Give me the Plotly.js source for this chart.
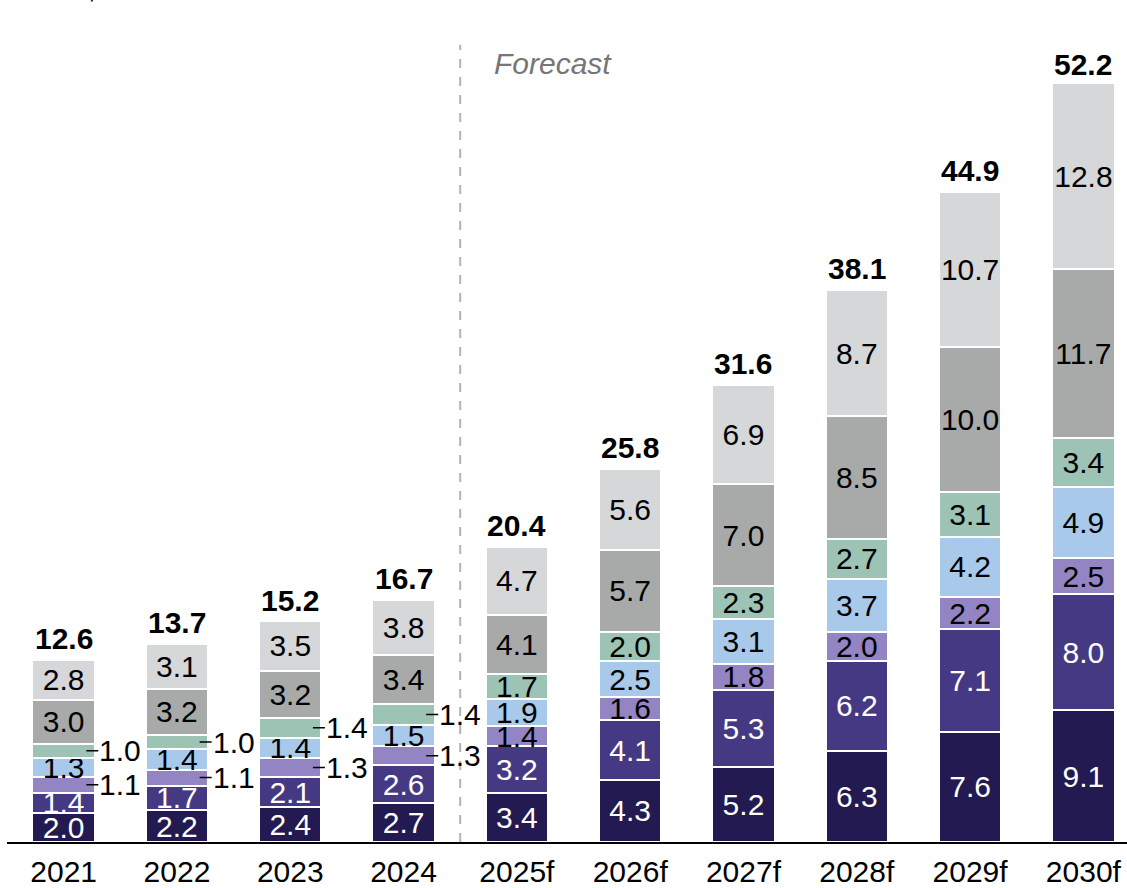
<!DOCTYPE html>
<html>
<head>
<meta charset="utf-8">
<script src="https://cdn.plot.ly/plotly-3.0.1.min.js"></script>
<style>html,body{margin:0;padding:0;background:#fff;}#chart{width:1127px;height:888px;}</style>
</head>
<body>
<div id="chart"></div>
<script>
const years = ["2021","2022","2023","2024","2025f","2026f","2027f","2028f","2029f","2030f"];
const seg1 = [2.0,2.2,2.4,2.7,3.4,4.3,5.2,6.3,7.6,9.1];
const seg2 = [1.4,1.7,2.1,2.6,3.2,4.1,5.3,6.2,7.1,8.0];
const seg3 = [1.1,1.1,1.3,1.3,1.4,1.6,1.8,2.0,2.2,2.5];
const seg4 = [1.3,1.4,1.4,1.5,1.9,2.5,3.1,3.7,4.2,4.9];
const seg5 = [1.0,1.0,1.4,1.4,1.7,2.0,2.3,2.7,3.1,3.4];
const seg6 = [3.0,3.2,3.2,3.4,4.1,5.7,7.0,8.5,10.0,11.7];
const seg7 = [2.8,3.1,3.5,3.8,4.7,5.6,6.9,8.7,10.7,12.8];
const totals = [12.6,13.7,15.2,16.7,20.4,25.8,31.6,38.1,44.9,52.2];
const outsideCount = 4; // first years where small segments are labelled outside

const FONT = "Liberation Sans, Arial, sans-serif";
const FS = 30;
const series = [
  {name:"s1", y:seg1, color:"#221a50", tc:"#ffffff", outside:false},
  {name:"s2", y:seg2, color:"#463984", tc:"#ffffff", outside:false},
  {name:"s3", y:seg3, color:"#9385c3", tc:"#000000", outside:true},
  {name:"s4", y:seg4, color:"#a9c9ea", tc:"#000000", outside:false},
  {name:"s5", y:seg5, color:"#9dc3b4", tc:"#000000", outside:true},
  {name:"s6", y:seg6, color:"#a8aaaa", tc:"#000000", outside:false},
  {name:"s7", y:seg7, color:"#d6d7d9", tc:"#000000", outside:false}
];

const traces = series.map(s => ({
  type:"bar", x:years, y:s.y, name:s.name,
  marker:{color:s.color, line:{color:"#ffffff", width:2}},
  text:s.y.map((v,i)=> (s.outside && i<outsideCount) ? "" : v.toFixed(1)),
  textposition:"inside", insidetextanchor:"middle", textangle:0,
  constraintext:"none",
  textfont:{family:FONT, size:FS, color:s.tc},
  hoverinfo:"skip", cliponaxis:false
}));

const annotations = [];
// totals
totals.forEach((t,i)=>{
  annotations.push({x:i, y:t, xref:"x", yref:"y", text:"<b>"+t.toFixed(1)+"</b>",
    showarrow:false, yanchor:"bottom", yshift:3, font:{family:FONT, size:FS, color:"#000"}});
});
// outside labels for small segments
const cum = years.map(()=>0);
series.forEach(s=>{
  s.y.forEach((v,i)=>{
    if (s.outside && i<outsideCount) {
      annotations.push({x:i+0.2, y:cum[i]+v/2, xref:"x", yref:"y", text:v.toFixed(1),
        showarrow:true, arrowhead:0, arrowwidth:1.5, arrowcolor:"#000", ax:12, ay:0,
        xanchor:"left", borderpad:0, standoff:0,
        font:{family:FONT, size:FS, color:"#000"}});
    }
    cum[i]+=v;
  });
});
// Forecast label
annotations.push({x:3.5, y:1, xref:"x", yref:"paper", text:"<i>Forecast</i>", showarrow:false,
  xanchor:"left", yanchor:"middle", xshift:32, yshift:-23, font:{family:FONT, size:30, color:"#767676"}});
// unit label (cut at top of page)
annotations.push({x:0, y:1, xref:"paper", yref:"paper", text:"USD, billion", showarrow:false,
  xanchor:"left", yanchor:"bottom", xshift:20, yshift:34, font:{family:FONT, size:28, color:"#000"}});

const layout = {
  width:1127, height:888,
  margin:{l:7, r:0, t:40, b:46},
  barmode:"stack", bargap:0.45,
  showlegend:false,
  paper_bgcolor:"#ffffff", plot_bgcolor:"#ffffff",
  xaxis:{type:"category", range:[-0.5, 9.385], showgrid:false, zeroline:false,
    showline:true, linecolor:"#000", linewidth:1.5, ticks:"",
    tickfont:{family:FONT, size:FS, color:"#000"}, ticklabelstandoff:2},
  yaxis:{range:[0,55.4], visible:false, showgrid:false, zeroline:false},
  shapes:[{type:"line", xref:"x", yref:"paper", x0:3.5, x1:3.5, y0:0, y1:0.994,
    line:{color:"#b3b3b3", width:2, dash:"dash"}}],
  annotations:annotations,
  font:{family:FONT}
};

Plotly.newPlot("chart", traces, layout, {displayModeBar:false, staticPlot:true});
</script>
</body>
</html>
